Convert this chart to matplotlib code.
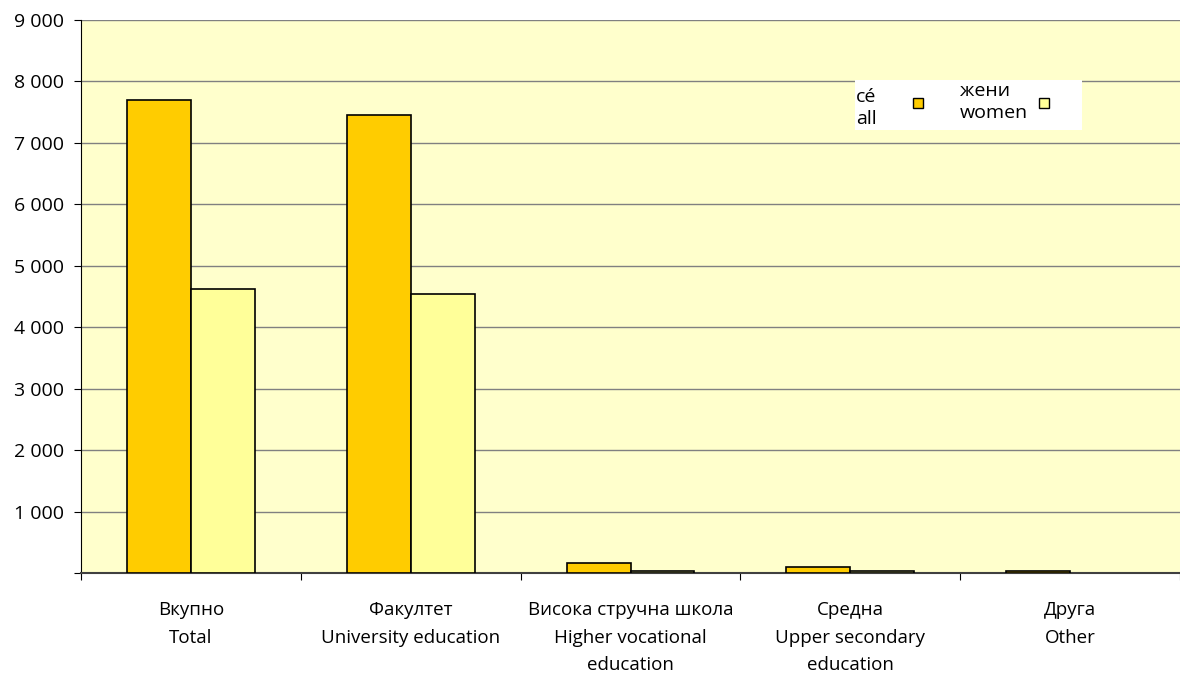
import matplotlib.pyplot as plt
import numpy as np
from matplotlib.patches import Rectangle
from matplotlib.ticker import FuncFormatter

plt.rcParams['font.family'] = ['Open Sans', 'DejaVu Sans']

categories = ["Вкупно\nTotal", "Факултет\nUniversity education",
              "Висока стручна школа\nHigher vocational\neducation",
              "Средна\nUpper secondary\neducation", "Друга\nOther"]
all_vals = [7690, 7460, 160, 100, 40]
women_vals = [4620, 4540, 35, 35, 0]
legend_labels = ["cé\nall", "жени\nwomen"]
colors = ['#FFCC00', '#FFFF99']

fig = plt.figure(figsize=(11.8, 6.79), dpi=100)
ax = fig.add_axes([81/1180, 1 - 573/679, 1099/1180, (573 - 20)/679])
ax.set_facecolor('#FFFFCC')

x = np.arange(len(categories))
w = 64/220
ax.bar(x - w/2, all_vals, w, color=colors[0], edgecolor='black', linewidth=1.2, zorder=3)
wv = np.array(women_vals, dtype=float)
ax.bar(x[wv > 0] + w/2, wv[wv > 0], w, color=colors[1], edgecolor='black', linewidth=1.2, zorder=3)

ax.set_xlim(-0.5, 4.5)
ax.set_ylim(0, 9000)
ax.set_yticks(np.arange(0, 9001, 1000))
ax.yaxis.set_major_formatter(FuncFormatter(lambda v, p: '' if v == 0 else '{:,.0f}'.format(v).replace(',', ' ')))
ax.grid(axis='y', color='#808080', linewidth=1, zorder=1)
ax.set_xticks(np.arange(-0.5, 4.6, 1))
ax.set_xticklabels([])
ax.set_xticks(x, minor=True)
ax.set_xticklabels(categories, minor=True, fontsize=13.5, linespacing=1.7)
ax.tick_params(axis='x', which='minor', length=0, pad=20)
ax.tick_params(axis='x', which='major', length=5, color='black')
ax.tick_params(axis='y', length=5, labelsize=14, pad=7)

for s in ['top', 'right']:
    ax.spines[s].set_visible(False)
ax.spines['left'].set_color('black')
ax.spines['bottom'].set_color('#404040')
ax.spines['bottom'].set_linewidth(1.5)

# legend box drawn by hand: text first, marker after
H = 679
fig.patches.append(Rectangle((855/1180, 1 - 130/H), 227/1180, 50/H,
                             transform=fig.transFigure, facecolor='white',
                             edgecolor='none', zorder=5))
for lab, col, tx, mx, ty in zip(legend_labels, colors, [856, 960], [918, 1044], [108, 102]):
    fig.text(tx/1180, 1 - ty/H, lab, fontsize=14, va='center', ha='left',
             linespacing=1.3, zorder=6)
    fig.patches.append(Rectangle(((mx - 5)/1180, 1 - 108/H), 10/1180, 10/H,
                                 transform=fig.transFigure, facecolor=col,
                                 edgecolor='black', linewidth=1, zorder=6))

fig.savefig('out.png', dpi=100)
